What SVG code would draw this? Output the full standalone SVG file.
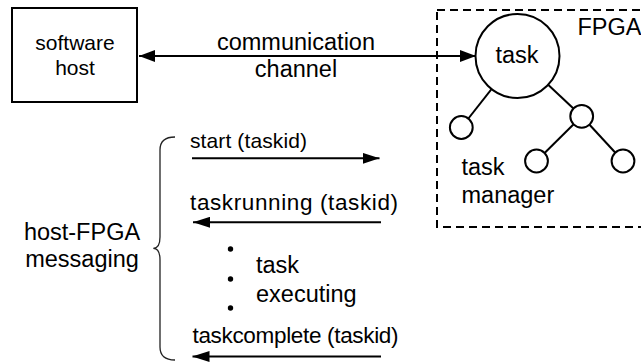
<svg xmlns="http://www.w3.org/2000/svg" width="641" height="362" viewBox="0 0 641 362">
<style>
text{font-family:"Liberation Sans",Arial,sans-serif;fill:#000}
.t{font-size:23.5px}
.s{font-size:21px}
.m{font-size:22.5px}
.ln{stroke:#000;stroke-width:2;fill:none}
.nd{stroke:#000;stroke-width:2;fill:#fff}
</style>
<defs>
<marker id="ah" viewBox="0 0 16 12" refX="16" refY="6" markerWidth="16" markerHeight="12" markerUnits="userSpaceOnUse" orient="auto-start-reverse">
<path d="M0,0 L16,6 L0,12 z" fill="#000"/>
</marker>
<marker id="ah2" viewBox="0 0 17 11" refX="17" refY="5.5" markerWidth="17" markerHeight="11" markerUnits="userSpaceOnUse" orient="auto">
<path d="M0,0 L17,5.5 L0,11 z" fill="#000"/>
</marker>
</defs>
<rect width="641" height="362" fill="#fff"/>

<g id="fpga">
<rect x="437" y="10" width="230" height="217" fill="none" stroke="#000" stroke-width="2" stroke-dasharray="8 5"/>
<text class="t" x="577.5" y="35">FPGA</text>
</g>

<g id="connectors">
<line class="ln" x1="139" y1="56" x2="476" y2="56" marker-start="url(#ah)" marker-end="url(#ah)"/>
<line class="ln" x1="517.5" y1="56" x2="461.3" y2="127.5"/>
<line class="ln" x1="517.5" y1="56" x2="581.7" y2="116.3"/>
<line class="ln" x1="581.7" y1="116.3" x2="536.5" y2="161"/>
<line class="ln" x1="581.7" y1="116.3" x2="623" y2="161"/>
<line class="ln" x1="192" y1="158.3" x2="379.5" y2="158.3" marker-end="url(#ah2)"/>
<line class="ln" x1="381" y1="222.3" x2="193" y2="222.3" marker-end="url(#ah2)"/>
<line class="ln" x1="381" y1="356.5" x2="192.5" y2="356.5" marker-end="url(#ah2)"/>
</g>

<g id="software-host">
<rect x="12" y="8" width="125" height="94" fill="#fff" stroke="#000" stroke-width="2"/>
<text class="s" x="75" y="50" text-anchor="middle">software</text>
<text class="s" x="75" y="75" text-anchor="middle">host</text>
</g>

<g id="channel-label">
<text class="t" x="296" y="50" text-anchor="middle">communication</text>
<text class="t" x="296" y="77" text-anchor="middle">channel</text>
</g>

<g id="task">
<circle class="nd" cx="517.5" cy="56" r="42"/>
<text class="t" x="517" y="63" text-anchor="middle">task</text>
</g>
<g id="leaf-left"><circle class="nd" cx="461.3" cy="127.5" r="11.4"/></g>
<g id="node-mid"><circle class="nd" cx="581.7" cy="116.3" r="11.4"/></g>
<g id="leaf-mid"><circle class="nd" cx="536.5" cy="161" r="11.4"/></g>
<g id="leaf-right"><circle class="nd" cx="623" cy="161" r="11.4"/></g>

<g id="task-manager-label">
<text class="t" x="461.5" y="175">task</text>
<text class="t" x="461.5" y="203">manager</text>
</g>

<g id="messaging">
<path d="M175,137 Q160,137 160,150 L160,237 Q160,248.3 153.3,248.3 Q160,248.3 160,260 L160,347 Q160,360 175,360" fill="none" stroke="#222" stroke-width="1.3"/>
<text class="t" x="82" y="240" text-anchor="middle">host-FPGA</text>
<text class="t" x="82" y="266.5" text-anchor="middle">messaging</text>
<text class="s" x="190" y="148.3" textLength="117">start (taskid)</text>
<text class="m" x="190" y="210" textLength="208">taskrunning (taskid)</text>
<text class="m" x="192.5" y="343.3" textLength="206">taskcomplete (taskid)</text>
<circle cx="230.5" cy="249" r="2.7" fill="#000"/>
<circle cx="230.5" cy="279" r="2.7" fill="#000"/>
<circle cx="230.5" cy="308" r="2.7" fill="#000"/>
<text class="t" x="256" y="273.3">task</text>
<text class="t" x="256" y="301.7">executing</text>
</g>
</svg>
